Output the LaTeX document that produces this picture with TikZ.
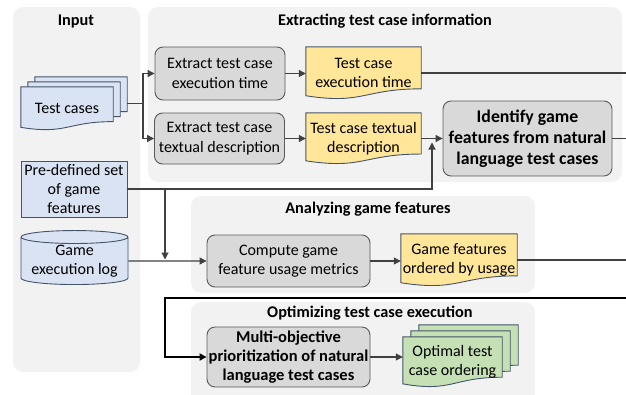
\documentclass[tikz,border=0pt]{standalone}
\usepackage{fontspec}
\setmainfont{Carlito}
\usetikzlibrary{arrows.meta}
\usetikzlibrary{calc}
\usetikzlibrary{shapes.geometric}

\definecolor{panelgray}{HTML}{F2F2F2}
\definecolor{boxgray}{HTML}{D9D9D9}
\definecolor{boxline}{HTML}{595959}
\definecolor{docblue}{HTML}{DAE3F3}
\definecolor{docyellow}{HTML}{FFE699}
\definecolor{docgreen}{HTML}{C5E0B4}
\definecolor{docline}{HTML}{44546A}
\definecolor{wirecol}{HTML}{404040}

\pgfdeclarelayer{bg}
\pgfsetlayers{bg,main}

% document outline under a node: node, fill, x offset, y offset (pt)
\newcommand{\docshape}[4]{%
  \path[fill=#2,draw=docline,line width=0.9pt]
    let \p1=($(#1.north west)+(#3pt,#4pt)$), \p2=($(#1.south east)+(#3pt,#4pt)$) in
    (\x1,\y1) -- (\x2,\y1) -- (\x2,{\y1+0.802*(\y2-\y1)})
    .. controls ({0.5*\x1+0.5*\x2},{\y1+0.802*(\y2-\y1)}) and ({0.5*\x1+0.5*\x2},{\y1+1.1075*(\y2-\y1)}) ..
    (\x1,{\y1+0.934*(\y2-\y1)}) -- cycle;}

\begin{document}
\begin{tikzpicture}[x=1pt,y=-1pt,
    font=\fontsize{16}{19.4}\selectfont,
    panel/.style={fill=panelgray, rounded corners=10pt},
    title/.style={font=\fontsize{16.3}{19.8}\selectfont\bfseries},
    procbox/.style={draw=boxline, fill=boxgray, rounded corners=8pt, line width=0.9pt, align=center, inner sep=0pt},
    docnode/.style={align=center, inner sep=0pt},
    inrect/.style={draw=docline, fill=docblue, line width=0.9pt, align=center, inner sep=0pt},
    wire/.style={draw=wirecol, line width=1.1pt},
    arr/.style={wire, -{Triangle[length=7pt,width=7pt]}},
    loopback/.style={draw=black, line width=1.8pt, -{Triangle[length=7pt,width=7pt]}}]
  \useasboundingbox (0,0) rectangle (626,394);

  % panel titles
  \node[title] (tinput) at (76,21) {Input};
  \node[title] (textract) at (385,21) {Extracting test case information};
  \node[title] (tanalyze) at (368,209) {Analyzing game features};
  \node[title] (toptim) at (370,313) {Optimizing test case execution};

  % inputs
  \node[docnode, minimum width=92pt, minimum height=43pt] (tc) at (67,108.5) {Test cases};
  \node[inrect, minimum width=106pt, minimum height=56pt] (predef) at (74,189) {Pre-defined set\\of game\\features};
  \node[cylinder, shape border rotate=90, aspect=0.15, draw=docline, fill=docblue, line width=0.9pt,
        align=center, inner sep=0pt, minimum width=107pt, minimum height=54pt] (log) at (74.5,261) {Game\\execution log};

  % extracting
  \node[procbox, minimum width=130pt, minimum height=53pt] (xtime) at (220,73.5) {Extract test case\\execution time};
  \node[procbox, minimum width=130pt, minimum height=51pt] (xdesc) at (219.5,138.5) {Extract test case\\textual description};
  \node[docnode, minimum width=115pt, minimum height=52pt] (ttime) at (363.5,73) {Test case\\execution time};
  \node[docnode, minimum width=115pt, minimum height=51pt] (tdesc) at (363.5,138.5) {Test case textual\\description};
  \node[procbox, font=\fontsize{17.8}{21}\selectfont\bfseries, minimum width=169pt, minimum height=75pt] (ident) at (527.5,138.5)
       {Identify game\\features from natural\\language test cases};

  % analyzing
  \node[procbox, minimum width=163pt, minimum height=52pt] (compute) at (288.5,261) {Compute game\\feature usage metrics};
  \node[docnode, minimum width=116pt, minimum height=52pt] (gfeat) at (459,260) {Game features\\ordered by usage};

  % optimizing
  \node[procbox, font=\fontsize{16.5}{19.2}\selectfont\bfseries, minimum width=163pt, minimum height=60pt] (multi) at (288.5,357)
       {Multi-objective\\prioritization of natural\\language test cases};
  \node[docnode, minimum width=99pt, minimum height=50pt] (opt) at (452.5,362) {Optimal test\\case ordering};

  \begin{pgfonlayer}{bg}
    \path[panel] (13,7) rectangle (140,372);
    \path[panel] (148,7) rectangle (622,182);
    \path[panel] (191,196) rectangle (535,293);
    \path[panel] (191,302) rectangle (535,410);
    \docshape{tc}{docblue}{14}{10}
    \docshape{tc}{docblue}{7}{5}
    \docshape{tc}{docblue}{0}{0}
    \docshape{ttime}{docyellow}{0}{0}
    \docshape{tdesc}{docyellow}{0}{0}
    \docshape{gfeat}{docyellow}{0}{0}
    \docshape{opt}{docgreen}{16}{12}
    \docshape{opt}{docgreen}{8}{6}
    \docshape{opt}{docgreen}{0}{0}
  \end{pgfonlayer}

  \coordinate (edge) at (626,0);
  \coordinate (split) at (143,103.5);
  \coordinate (j1) at (432,189);
  \coordinate (j2) at (165,189);
  \coordinate (back) at (626,298);
  \coordinate (j3) at (165,298);

  \draw[wire] ($(tc.east)+(14pt,5pt)$) -- (split);
  \draw[arr] (split) |- (xtime);
  \draw[arr] (split) |- (xdesc);
  \draw[arr] (xtime.east) -- (xtime.east -| ttime.west);
  \draw[arr] (xdesc.east) -- (xdesc.east -| tdesc.west);
  \draw[arr] (tdesc.east) -- (ident.west);
  \draw[wire] (ttime.east) -- (ttime.east -| edge);
  \draw[wire] (ident.east) -- (ident.east -| edge);

  \draw[arr] (predef.east) -| ($(j1 |- tdesc.east)+(0,4)$);
  \draw[arr, shorten >=1.5pt] (j2) -- (j2 |- log.east);
  \draw[arr] (log.east) -- (compute.west);
  \draw[arr] (compute.east) -- (compute.east -| gfeat.west);
  \draw[wire] (gfeat.east) -- (gfeat.east -| edge);

  \draw[loopback] (back) -- (j3) |- (multi.west);
  \draw[arr] (multi.east) -- (multi.east -| opt.west);
\end{tikzpicture}
\end{document}
